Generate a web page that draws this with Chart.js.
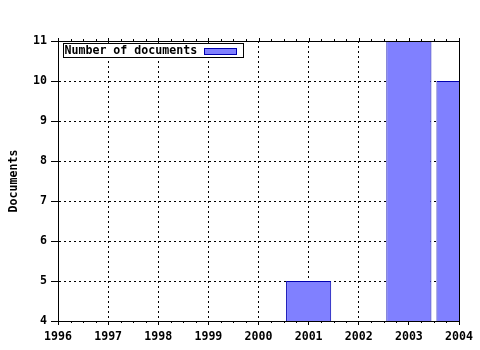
<!DOCTYPE html>
<html>
<head>
<meta charset="utf-8">
<script src="https://cdn.jsdelivr.net/npm/chart.js@4.4.0/dist/chart.umd.min.js"></script>
<style>
  html, body { margin: 0; padding: 0; background: #fff; }
  #wrap { width: 480px; height: 350px; }
</style>
</head>
<body>
<div id="wrap"><canvas id="myChart" width="480" height="350"></canvas></div>
<script>
'use strict';

let years = [2001, 2003, 2004];
let docCounts = [5, 11, 10];
let seriesLabel = 'Number of documents';
let yTitle = 'Documents';
let xMin = 1996;
let xMax = 2004;
let yMin = 4;
let yMax = 11;

let monoFont = { family: 'DejaVu Sans Mono', size: 11.6, weight: 'bold' };

let points = [];
for (let i = 0; i < years.length; i++) {
    points.push({ x: years[i], y: docCounts[i] });
}

// frame on top/right, small ticks, and the boxed legend
let framePlugin = {
    id: 'frame',
    afterDatasetsDraw(chart) {
        let ctx = chart.ctx;
        let a = chart.chartArea;
        let xs = chart.scales.x;
        ctx.save();
        ctx.strokeStyle = '#000';
        ctx.lineWidth = 1;
        ctx.beginPath();
        ctx.moveTo(a.left, a.top + 0.5);
        ctx.lineTo(a.right + 0.5, a.top + 0.5);
        ctx.lineTo(a.right + 0.5, a.bottom);
        ctx.stroke();

        ctx.beginPath();
        for (let v = xMin; v <= xMax + 0.001; v += 0.25) {
            let px = Math.round(xs.getPixelForValue(v)) + 0.5;
            let major = Math.abs(v - Math.round(v)) < 0.001;
            ctx.moveTo(px, a.top);
            ctx.lineTo(px, a.top - (major ? 3 : 2));
            if (!major) {
                ctx.moveTo(px, a.bottom);
                ctx.lineTo(px, a.bottom + 2);
            }
        }
        ctx.stroke();

        // legend
        let ds = chart.data.datasets[0];
        let lx = a.left + 5.5, ly = a.top + 2.5;
        ctx.fillStyle = '#fff';
        ctx.fillRect(lx, ly, 180, 14);
        ctx.strokeRect(lx, ly, 180, 14);
        ctx.fillStyle = '#000';
        ctx.font = 'bold 11.6px "DejaVu Sans Mono"';
        ctx.textBaseline = 'middle';
        ctx.fillText(ds.label, lx + 1, ly + 7.5);
        ctx.fillStyle = ds.backgroundColor;
        ctx.fillRect(lx + 141, ly + 5, 32, 6);
        ctx.strokeStyle = ds.borderColor;
        ctx.strokeRect(lx + 141, ly + 5, 32, 6);
        ctx.restore();
    }
};

let ctx = document.getElementById('myChart').getContext('2d');
let myChart = new Chart(ctx, {
    type: 'bar',
    data: {
        datasets: [{
            label: seriesLabel,
            data: points,
            backgroundColor: '#8080ff',
            borderColor: '#0000b0',
            borderWidth: 1,
            borderSkipped: 'bottom',
            barPercentage: 0.9,
            categoryPercentage: 1,
            clip: 0
        }]
    },
    options: {
        responsive: false,
        animation: false,
        layout: { padding: { top: 41, right: 21, left: 0, bottom: 0 } },
        plugins: {
            legend: { display: false },
            tooltip: { enabled: false }
        },
        scales: {
            x: {
                type: 'linear',
                min: xMin,
                max: xMax,
                offset: false,
                ticks: {
                    stepSize: 1,
                    color: '#000',
                    font: monoFont,
                    padding: 5,
                    maxRotation: 0,
                    callback: function (v) { return String(v); }
                },
                grid: { offset: false, color: '#000', tickColor: '#000', tickLength: 4, lineWidth: 1 },
                border: { color: '#000', width: 1, dash: [2, 3] },
                afterFit: function (s) { s.height = 29; }
            },
            y: {
                min: yMin,
                max: yMax,
                ticks: {
                    stepSize: 1,
                    color: '#000',
                    font: monoFont,
                    padding: 4
                },
                grid: { color: '#000', tickColor: '#000', tickLength: 7, lineWidth: 1 },
                border: { color: '#000', width: 1, dash: [2, 3] },
                title: {
                    display: true,
                    text: yTitle,
                    color: '#000',
                    font: monoFont,
                    padding: { top: 7, bottom: 0 }
                },
                afterFit: function (s) { s.width = 58; }
            }
        }
    },
    plugins: [framePlugin]
});
</script>
</body>
</html>
